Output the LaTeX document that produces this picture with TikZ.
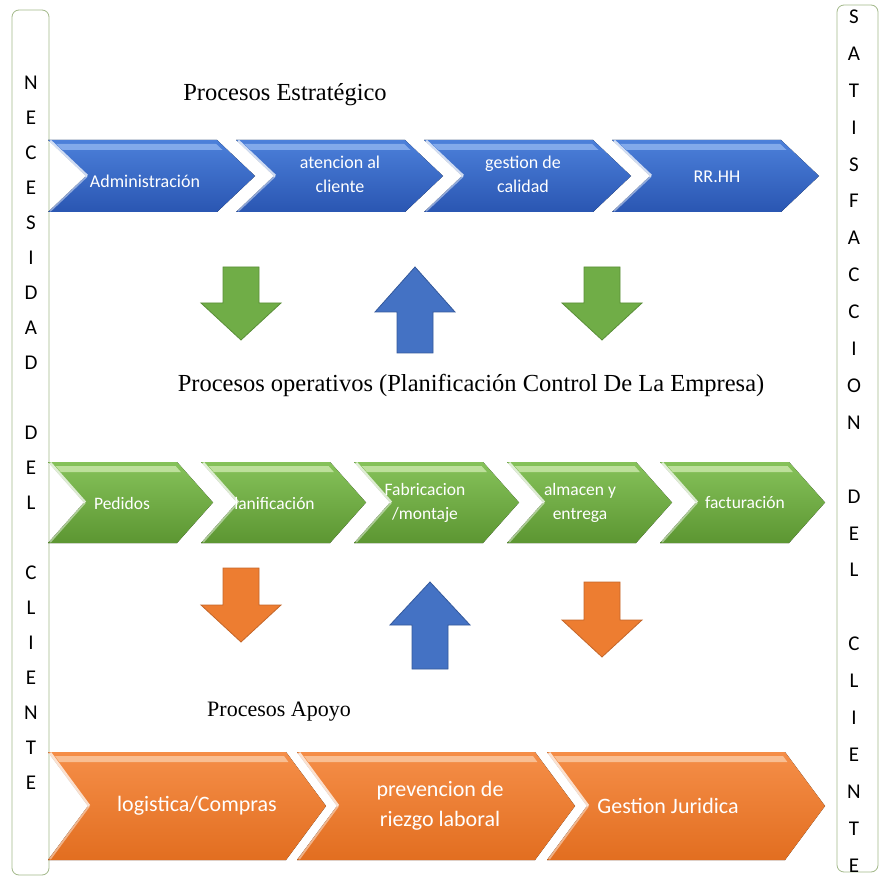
\documentclass[tikz,border=0pt]{standalone}
\usepackage{fontspec}
\setmainfont{Liberation Serif}
\newfontfamily\calib{Carlito}

% colours
\definecolor{bluetop}{HTML}{4C80DA}
\definecolor{bluebot}{HTML}{2A56B2}
\definecolor{bluehi}{HTML}{8DB2EE}
\definecolor{greentop}{HTML}{86C25A}
\definecolor{greenbot}{HTML}{5C9632}
\definecolor{greenhi}{HTML}{C8E6A8}
\definecolor{orangetop}{HTML}{F58E48}
\definecolor{orangebot}{HTML}{E26E20}
\definecolor{orangehi}{HTML}{FAC7A0}
\definecolor{arrgreen}{HTML}{70AD47}
\definecolor{arrgreenline}{HTML}{5A8E38}
\definecolor{arrblue}{HTML}{4472C4}
\definecolor{arrblueline}{HTML}{34599C}
\definecolor{arrorange}{HTML}{ED7D31}
\definecolor{arrorangeline}{HTML}{C4662A}
\definecolor{sideline}{HTML}{A3B98A}

% chevron: name, left x, top y, bottom y, length, point depth, colour prefix
\newcommand{\chevbox}[7]{%
  \pgfmathsetmacro{\cA}{#2+#5-#6}%
  \pgfmathsetmacro{\cB}{#2+#5}%
  \pgfmathsetmacro{\cN}{#2+#6}%
  \pgfmathsetmacro{\cM}{(#3+#4)/2}%
  \pgfmathsetmacro{\hh}{(#4-#3)/2}%
  \fill[top color=#7top, bottom color=#7bot]
    (#2,#3) -- (\cA,#3) -- (\cB,\cM) -- (\cA,#4) -- (#2,#4) -- (\cN,\cM) -- cycle;
  \pgfmathsetmacro{\gA}{#2+#6*4/\hh+4}%
  \pgfmathsetmacro{\gB}{#2+#6*10/\hh+4}%
  \pgfmathsetmacro{\gC}{\cA+#6*4/\hh-5}%
  \pgfmathsetmacro{\gD}{\cA+#6*10/\hh-5}%
  \fill[#7hi, opacity=0.85] (\gA,#3+4) -- (\gC,#3+4) -- (\gD,#3+10) -- (\gB,#3+10) -- cycle;
  \draw[white, opacity=0.75, line width=3pt] (#2+2,#3+1) -- (\cN+1,\cM);
  \draw[white, opacity=0.45, line width=2pt] (\cN+1,\cM) -- (#2+2,#4-1);
  \coordinate (#1) at ({#2+#5/2},\cM);
}

% block arrows: centre x, base y, head y, tip y, fill, outline
\newcommand{\blockarrow}[6]{%
  \filldraw[fill=#5, draw=#6, line width=0.8pt]
    (#1-18,#2) -- (#1+18,#2) -- (#1+18,#3) -- (#1+40,#3) -- (#1,#4)
    -- (#1-40,#3) -- (#1-18,#3) -- cycle;
}

\begin{document}
\begin{tikzpicture}[x=1pt,y=-1pt,
  title/.style={font=\fontsize{24.5}{29}\selectfont, inner sep=0pt},
  lblB/.style={text=white, align=center, inner sep=0pt, font=\calib\fontsize{18}{24}\selectfont},
  lblG/.style={text=white, align=center, inner sep=0pt, font=\calib\fontsize{17.5}{24}\selectfont},
  lblO/.style={text=white, align=center, inner sep=0pt, font=\calib\fontsize{22}{30}\selectfont},
  sidebox/.style={draw=sideline, line width=0.8pt, fill=white, rounded corners=7pt},
  sideletters/.style={align=center, inner sep=0pt, font=\calib\fontsize{21}{35}\selectfont}
]
\useasboundingbox (0,0) rectangle (881,877);
\fill[white] (0,0) rectangle (881,877);

% side columns
\draw[sidebox] (12,10) rectangle (49,875);
\draw[sidebox] (837,5) rectangle (878,872);
\node[sideletters] (need) at (31,433)
  {N\\E\\C\\E\\S\\I\\D\\A\\D\\[35pt]D\\E\\L\\[35pt]C\\L\\I\\E\\N\\T\\E};
\node[sideletters, font=\calib\fontsize{21}{36.9}\selectfont] (satis) at (854,441)
  {S\\A\\T\\I\\S\\F\\A\\C\\C\\I\\O\\N\\[36.9pt]D\\E\\L\\[36.9pt]C\\L\\I\\E\\N\\T\\E};

% strategic processes
\node[title] (strat) at (285,95) {Procesos Estratégico};
\chevbox{b1}{48}{140}{212}{207}{38}{blue}
\chevbox{b2}{236}{140}{212}{207}{38}{blue}
\chevbox{b3}{424}{140}{212}{207}{38}{blue}
\chevbox{b4}{612}{140}{212}{207}{38}{blue}
\node[lblB] (tb1) at (145,181) {Administración};
\node[lblB] (tb2) at (340,174) {atencion al\\cliente};
\node[lblB] (tb3) at (523,174) {gestion de\\calidad};
\node[lblB] (tb4) at (717,177) {RR.HH};

% arrows between strategic and operative rows
\blockarrow{241}{267}{303}{340}{arrgreen}{arrgreenline}
\blockarrow{415}{353}{312}{267}{arrblue}{arrblueline}
\blockarrow{602}{267}{303}{340}{arrgreen}{arrgreenline}

% operative processes
\node[title] (oper) at (471,385) {Procesos operativos (Planificación Control De La Empresa)};
\chevbox{g1}{48}{462}{543}{165}{36}{green}
\chevbox{g2}{201}{462}{543}{165}{36}{green}
\chevbox{g3}{354}{462}{543}{165}{36}{green}
\chevbox{g4}{507}{462}{543}{165}{36}{green}
\chevbox{g5}{660}{462}{543}{165}{36}{green}
\node[lblG] (tg1) at (122,503) {Pedidos};
\node[lblG] (tg2) at (270,503) {Planificación};
\node[lblG] (tg3) at (425,503) {Fabricacion\\/montaje};
\node[lblG] (tg4) at (580,503) {almacen y\\entrega};
\node[lblG] (tg5) at (745,503) {facturación};

% arrows between operative and support rows
\blockarrow{241}{568}{605}{642}{arrorange}{arrorangeline}
\blockarrow{430}{669}{625}{582}{arrblue}{arrblueline}
\blockarrow{602}{582}{620}{657}{arrorange}{arrorangeline}

% support processes
\node[title, font=\fontsize{22}{26}\selectfont] (apoyo) at (279,712) {Procesos Apoyo};
\chevbox{o1}{48}{752}{860}{278}{40}{orange}
\chevbox{o2}{297}{752}{860}{278}{40}{orange}
\chevbox{o3}{547}{752}{860}{278}{40}{orange}
\node[lblO] (to1) at (197,806) {logistica/Compras};
\node[lblO] (to2) at (440,806) {prevencion de\\riezgo laboral};
\node[lblO] (to3) at (668,806) {Gestion Juridica};
\end{tikzpicture}
\end{document}
